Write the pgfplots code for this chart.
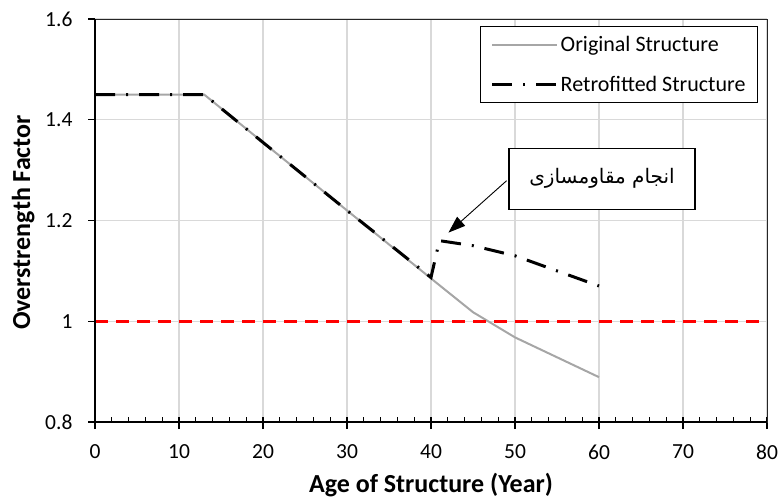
\documentclass[border=0pt]{standalone}
\usepackage{fontspec}
\setmainfont{Carlito}
\newfontfamily\arabicfont[Script=Arabic]{DejaVu Sans}
\TeXXeTstate=1
\usepackage{pgfplots}
\pgfplotsset{compat=1.18}
\usetikzlibrary{arrows.meta}
\begin{document}
\begin{tikzpicture}
\begin{axis}[
  at={(95pt,77pt)}, anchor=south west, scale only axis,
  width=672pt, height=403pt,
  xmin=0, xmax=80, ymin=0.8, ymax=1.6,
  xtick={0,10,...,80}, ytick={0.8,1,1.2,1.4,1.6},
  minor x tick num=4,
  tick pos=left,
  tick align=outside,
  major tick length=12pt, minor tick length=5pt,
  major x tick style={yshift=5pt, line width=1.3pt, black},
  minor x tick style={yshift=5pt, line width=1pt, black},
  major y tick style={draw=none},
  xmajorgrids, ymajorgrids,
  major grid style={draw=black!15, line width=1.2pt},
  axis line style={line width=1pt, black!85},
  tick label style={font=\fontsize{21.5}{26}\selectfont},
  xticklabel style={yshift=-7pt},
  yticklabel style={xshift=-7pt},
  /pgf/number format/assume math mode=true,
  clip=false,
  legend style={at={(rel axis cs:0.9866,0.983)}, anchor=north east, draw=black, line width=1pt,
    font=\fontsize{22}{26}\selectfont, inner xsep=10pt, inner ysep=8pt, row sep=19pt},
  legend cell align=left,
  legend image code/.code={\path (0pt,0pt) -- (65pt,0pt);\draw[#1] (0pt,0pt) -- (62pt,0pt);},
]
\addplot[draw=black!35, line width=2pt] coordinates {
  (0,1.45) (13,1.45) (20,1.355) (30,1.22) (40,1.085) (45,1.018) (50,0.968) (60,0.889)};
\addlegendentry{Original Structure}
\addplot[draw=black, line width=3pt, dash pattern=on 20pt off 11pt on 2pt off 11pt] coordinates {
  (0,1.45) (13,1.45) (20,1.355) (30,1.22) (40,1.087) (41,1.16) (45,1.15) (50,1.13) (60,1.07)};
\addlegendentry{Retrofitted Structure}
\addplot[draw=red, line width=3pt, dash pattern=on 13pt off 8pt, forget plot] coordinates {(0,1) (80,1)};
\draw[line width=2pt, black] (axis cs:0,0.8) -- (axis cs:0,1.6);
\draw[line width=2pt, black] (axis cs:0,0.8) -- (axis cs:80,0.8);
\pgfplotsinvokeforeach{0.8,1,1.2,1.4,1.6}{\draw[line width=1.3pt, black] (axis cs:0,#1) -- ++(-7pt,0pt);}
\draw[line width=0.9pt, -{Triangle[length=17pt,width=12pt]}] (axis cs:49.0,1.279) -- (axis cs:42.08,1.176);
\node[draw=black, line width=1.3pt, fill=white, minimum width=186pt, minimum height=61pt, inner sep=0pt]
  at (axis cs:60.36,1.283) {\arabicfont\fontsize{20}{24}\selectfont\beginR انجام مقاومسازی\endR};
\end{axis}
\node[rotate=90, anchor=base, font=\fontsize{26}{30}\selectfont\bfseries] at (30pt,276.5pt) {Overstrength Factor};
\node[anchor=base, font=\fontsize{26}{30}\selectfont\bfseries] at (431pt,6.5pt) {Age of Structure (Year)};
\pgfresetboundingbox
\useasboundingbox (0pt,0pt) rectangle (779pt,499pt);
\end{tikzpicture}
\end{document}
